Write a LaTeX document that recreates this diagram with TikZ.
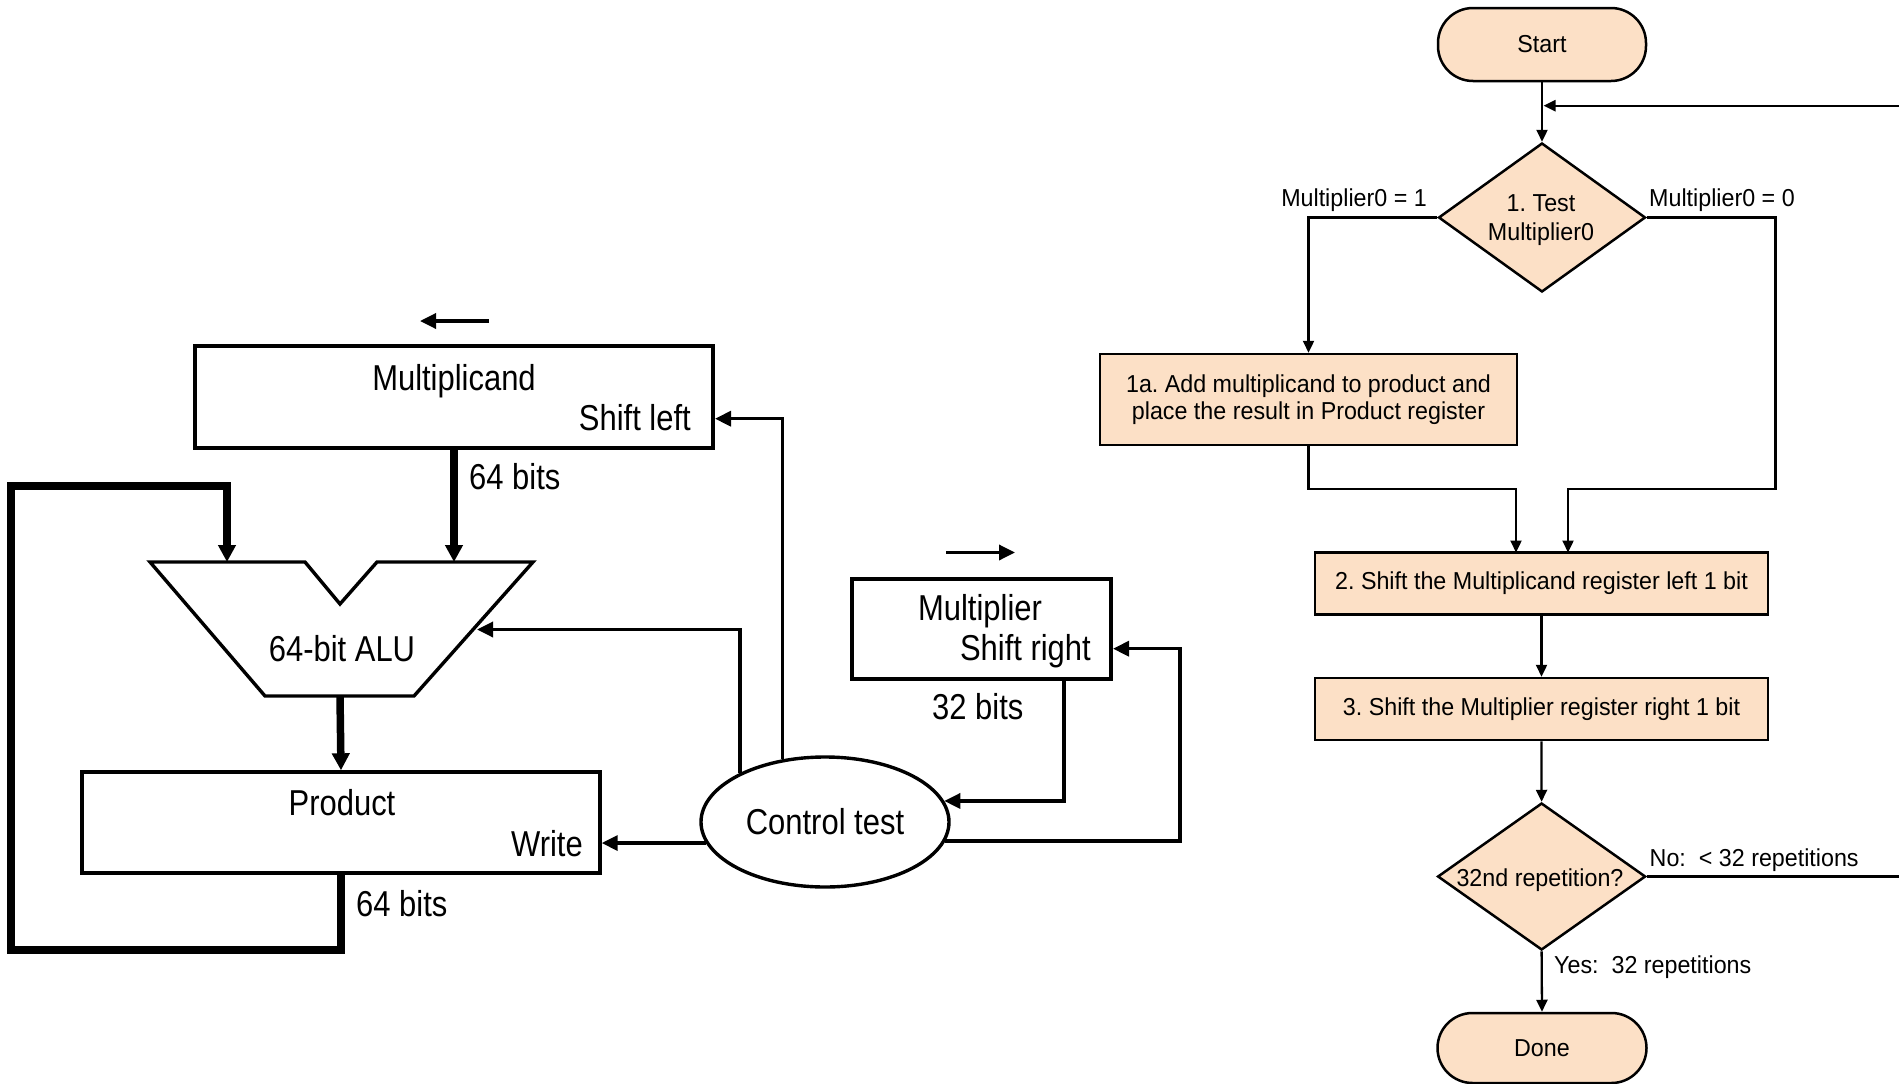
\documentclass[tikz,border=0pt]{standalone}
\usepackage{fontspec}
\setmainfont{Liberation Sans}
\newfontfamily\lfont[FakeStretch=0.86]{Liberation Sans}
\newfontfamily\rfont[FakeStretch=0.95]{Liberation Sans}
\usetikzlibrary{shapes.geometric,arrows.meta}
\definecolor{peach}{RGB}{252,224,198}
\frenchspacing
\tikzset{
 lw/.style={line width=3.4pt, line join=miter},
 larr/.style={line width=3.4pt, line join=miter, -{Triangle[length=16pt,width=15pt]}},
 lthkarr/.style={line width=7.5pt, line join=miter, -{Triangle[length=17pt,width=17pt]}},
 lreg/.style={draw, line width=3.4pt, inner sep=0pt},
 ltxt/.style={font=\lfont\fontsize{36}{40}\selectfont, inner sep=0pt, text height=25.8pt, text depth=0pt},
 rline/.style={line width=2.3pt},
 rarr/.style={line width=2.3pt, -{Triangle[length=12pt,width=11pt]}},
 rbox/.style={draw, line width=2.5pt, fill=peach, inner sep=0pt, align=center, font=\rfont\fontsize{24.5}{26.5}\selectfont},
 rterm/.style={rbox, rounded corners=35pt},
 rdia/.style={diamond, draw, line width=2.5pt, fill=peach, inner sep=0pt},
 rtxt/.style={font=\rfont\fontsize{24.5}{29}\selectfont, inner sep=0pt, text height=17.5pt, text depth=0pt},
 rmtxt/.style={font=\rfont\fontsize{24.5}{29}\selectfont, inner sep=0pt, align=center},
}
\begin{document}
\begin{tikzpicture}[x=1pt,y=-1pt]
\fill[white] (0,0) rectangle (1899,1084);
\useasboundingbox (0,0) rectangle (1899,1084);

% ---------- left: datapath ----------
\node[lreg, minimum width=518pt, minimum height=102pt] (mcand) at (454,397) {};
\node[ltxt] (mcandt) at (454,378) {Multiplicand};
\node[ltxt, anchor=east] (shl) at (691,418) {Shift left};
\coordinate (mcA) at (489,321);
\coordinate (mcB) at (420,321);
\draw[larr] (mcA) -- (mcB);

% ALU
\draw[lw] (150,562) -- (305,562) -- (340,604) -- (377,562) -- (533,562) -- (414,696) -- (265,696) -- cycle;
\node[ltxt] (alu) at (342,649) {64-bit ALU};
\coordinate (aluA) at (227,562);
\coordinate (aluB) at (454,562);
\coordinate (aluO) at (340,696);
\coordinate (aluC) at (477,629.5);

\draw[lthkarr] (mcand.south) -- (aluB);
\node[ltxt, anchor=west] (b64a) at (469,477) {64 bits};

% Product
\node[lreg, minimum width=518pt, minimum height=101pt] (prod) at (341,822.5) {};
\node[ltxt] (prodt) at (342,803) {Product};
\node[ltxt, anchor=east] (wr) at (583,844) {Write};
\node[ltxt, anchor=west] (b64b) at (356,904) {64 bits};

\draw[lthkarr] (aluO) -- (prod.north);
\coordinate (lpA) at (11,950);
\coordinate (lpB) at (227,486);
\draw[lthkarr] (prod.south) |- (lpA) |- (lpB) -- (aluA);

% Control test
\node[ellipse, draw, line width=3.4pt, minimum width=248pt, minimum height=130pt, inner sep=0pt,
      font=\lfont\fontsize{36}{40}\selectfont] (ctl) at (825,822) {Control test};

% Multiplier
\node[lreg, minimum width=259pt, minimum height=100pt] (mplr) at (981.5,629) {};
\node[ltxt] (mplrt) at (980,608) {Multiplier};
\node[ltxt, anchor=east] (shr) at (1091,648) {Shift right};
\node[ltxt, anchor=west] (b32) at (932,707) {32 bits};
\coordinate (mpA) at (946,552.5);
\coordinate (mpB) at (1015,552.5);
\draw[larr] (mpA) -- (mpB);

% control connectors
\coordinate (slin) at (715,418.7);
\coordinate (srin) at (1113,648.7);
\coordinate (rx) at (1180,648.7);
\coordinate (mpout) at (1064,679);
\draw[larr] (ctl.190) -- (ctl.190 -| prod.east);
\draw[larr] (ctl.150) |- (aluC);
\draw[larr] (ctl.124) |- (slin);
\draw[larr] (mpout) |- (ctl.10);
\draw[larr] (ctl.351) -| (rx) -- (srin);

% ---------- right: flowchart ----------
\node[rterm, minimum width=208pt, minimum height=73pt] (start) at (1542,44.5) {Start};
\node[rdia, minimum width=207pt, minimum height=149pt] (d1) at (1542,217.5) {};
\node[rmtxt] (d1t) at (1541,220) {1. Test\\Multiplier0};
\node[rtxt, anchor=east] (m1) at (1427,198) {Multiplier0 = 1};
\node[rtxt, anchor=west] (m0) at (1649,198) {Multiplier0 = 0};

\node[rbox, minimum width=417pt, minimum height=91pt] (b1a) at (1308.5,399.5)
  {1a. Add multiplicand to product and\\place the result in Product register};
\node[rbox, minimum width=453pt, minimum height=62pt] (s2) at (1541.5,583.6)
  {2. Shift the Multiplicand register left 1 bit};
\node[rbox, minimum width=453pt, minimum height=62pt] (s3) at (1541.5,709)
  {3. Shift the Multiplier register right 1 bit};
\node[rdia, minimum width=208pt, minimum height=147pt] (d2) at (1541.6,876.5) {};
\node[rtxt] (d2t) at (1540,878) {32nd repetition?};
\node[rtxt, anchor=west] (no) at (1649.5,858) {No:\ \ < 32 repetitions};
\node[rtxt, anchor=west] (yes) at (1554,965) {Yes:\ \ 32 repetitions};
\node[rterm, minimum width=209pt, minimum height=70pt] (done) at (1542,1048) {Done};

\coordinate (rtop) at (1899,105.7);
\coordinate (rjoin) at (1543.5,105.7);
\coordinate (redge) at (1899,876.5);
\coordinate (jA) at (1516,489);
\coordinate (jB) at (1775.5,489);
\coordinate (s2A) at (1516,552.5);
\coordinate (s2B) at (1568,552.5);

\draw[rarr] (start.south) -- (d1.north);
\draw[rarr] (rtop) -- (rjoin);
\draw[rarr] (d1.west) -| (b1a.north);
\draw[rarr] (b1a.south) |- (jA) -- (s2A);
\draw[rarr] (d1.east) -| (jB) -| (s2B);
\draw[rarr] (s2.south) -- (s3.north);
\draw[rarr] (s3.south) -- (d2.north);
\draw[rarr] (d2.south) -- (done.north);
\draw[rline] (d2.east) -- (redge);
\end{tikzpicture}
\end{document}
